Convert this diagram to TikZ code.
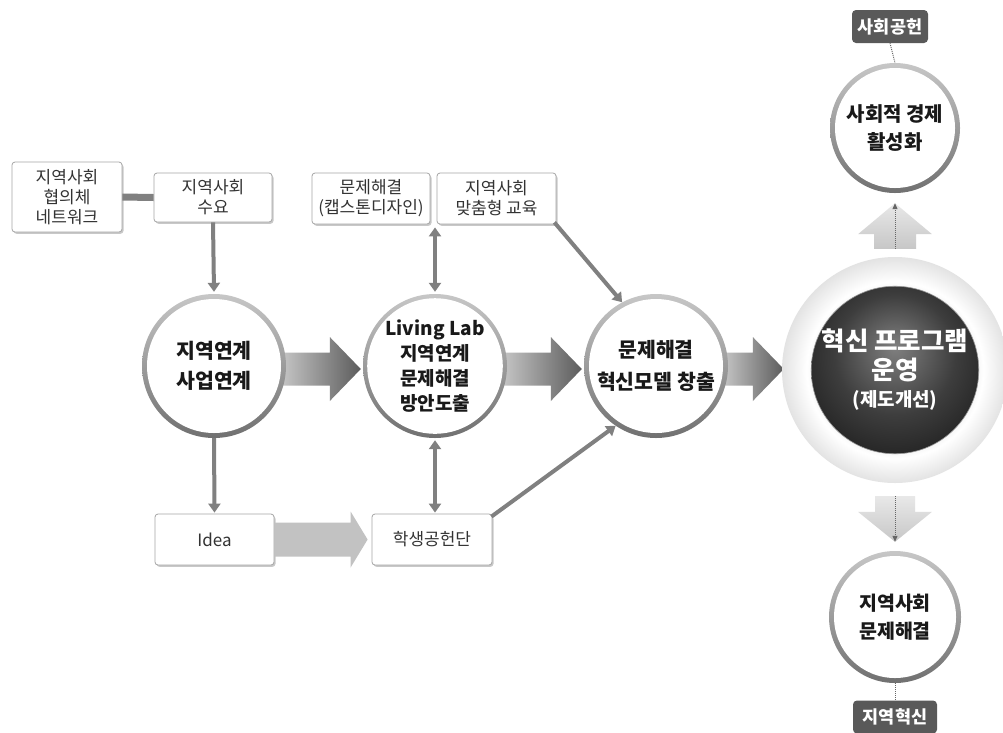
\documentclass[tikz,border=0pt]{standalone}
\usepackage{fontspec}
\setmainfont{Noto Sans CJK KR}
\usetikzlibrary{arrows.meta,shadows,calc}
\pgfdeclarelayer{bg}
\pgfsetlayers{bg,main}
\pgfdeclareradialshading{ringshade}{\pgfpoint{0bp}{0bp}}{color(0bp)=(black!12); color(16bp)=(black!10); color(19.5bp)=(white); color(22bp)=(black!5); color(25bp)=(black!11); color(50bp)=(black!11)}
\pgfdeclareradialshading{darkshade}{\pgfpoint{0bp}{7bp}}{color(0bp)=(black!50); color(18bp)=(black!76); color(32bp)=(black!88); color(50bp)=(black!88)}
\begin{document}
\begin{tikzpicture}[x=1pt,y=-1pt,
  box/.style={draw=black!35, line width=0.8pt, rounded corners=3pt, fill=white, align=center,
    text=black!80, font=\fontsize{17}{20}\selectfont, inner sep=0pt,
    drop shadow={shadow xshift=1.5pt, shadow yshift=-1.8pt, fill=black!30, opacity=0.7}},
  darkbox/.style={fill=black!65, rounded corners=4pt, text=white, inner sep=0pt,
    font=\fontsize{17.5}{18}\selectfont\bfseries, minimum height=33pt},
  ringnode/.style={circle, inner sep=0pt, minimum size=#1, top color=black!22, bottom color=black!56},
  ctext/.style={circle, inner sep=0pt, fill=white, align=center, minimum size=#1, text=black!90},
  thinarrow/.style={draw=black!50, line width=4pt, -{Triangle[width=12pt,length=9pt]}},
  thinboth/.style={draw=black!50, line width=4pt, {Triangle[width=12pt,length=9pt]}-{Triangle[width=12pt,length=9pt]}},
  rowarrow/.style={left color=black!22, right color=black!64},
  vertarrow/.style={top color=black!9, bottom color=black!22},
  dots/.style={draw=black!60, line width=1pt, densely dotted}
]
\useasboundingbox (0,0) rectangle (1003,732);

% small boxes
\node[box, minimum width=110pt, minimum height=70pt] (b1) at (67,197) {지역사회\\협의체\\네트워크};
\node[box, minimum width=118pt, minimum height=49pt] (b2) at (213,197.5) {지역사회\\수요};
\node[box, minimum width=118pt, minimum height=51pt] (b3) at (371,198.5) {문제해결\\(캡스톤디자인)};
\node[box, minimum width=119pt, minimum height=51pt] (b4) at (496.5,198.5) {지역사회\\맞춤형 교육};
\node[box, minimum width=119pt, minimum height=51pt] (b5) at (214.5,539.5) {Idea};
\node[box, minimum width=120pt, minimum height=51pt] (b6) at (432,539.5) {학생공헌단};

% row circles
\node[ringnode=144pt] (c1) at (214,366) {};
\node[ctext=134pt, font=\fontsize{20.5}{30}\selectfont\bfseries] (c1t) at (c1) {지역연계\\사업연계};
\node[ringnode=144pt] (c2) at (435,366) {};
\node[ctext=134pt, font=\fontsize{19}{25}\selectfont\bfseries] (c2t) at (c2) {Living Lab\\지역연계\\문제해결\\방안도출};
\node[ringnode=144pt] (c3) at (656,366) {};
\node[ctext=134pt, font=\fontsize{20.5}{32}\selectfont\bfseries] (c3t) at (c3) {문제해결\\혁신모델 창출};

% big circle
\node[circle, inner sep=0pt, minimum size=226pt, shade, shading=ringshade] (big) at (895,370) {};
\node[circle, inner sep=0pt, minimum size=154pt, shade, shading=darkshade, draw=black!40, line width=0.6pt,
  text=white, align=center, font=\fontsize{25.5}{29}\selectfont\bfseries] (bigt) at (big)
  {혁신 프로그램\\운영\\[-2pt]{\fontsize{19}{22}\selectfont (제도개선)}};

% top and bottom circles
\node[ringnode=130pt] (top) at (895,128) {};
\node[ctext=120pt, font=\fontsize{20}{28}\selectfont\bfseries] (topt) at (top) {사회적 경제\\활성화};
\node[ringnode=132pt] (bot) at (895,617) {};
\node[ctext=122pt, font=\fontsize{19.5}{28}\selectfont\bfseries] (bott) at (bot) {지역사회\\문제해결};

\node[darkbox, minimum width=76pt] (sg) at (890,26.5) {사회공헌};
\node[darkbox, minimum width=84pt] (jh) at (895,717) {지역혁신};

\begin{pgfonlayer}{bg}
\fill[white] (0,0) rectangle (1003,732);
% row block arrows
\shade[rowarrow] let \p1=([yshift=-3pt]c1.east), \p2=([xshift=-2pt]c2.west) in
  ({\x1-6pt},{\y1+16.5pt}) -- ({\x2-31pt},{\y1+16.5pt}) -- ({\x2-31pt},{\y1+32pt}) -- (\x2,\y1)
  -- ({\x2-31pt},{\y1-32pt}) -- ({\x2-31pt},{\y1-16.5pt}) -- ({\x1-6pt},{\y1-16.5pt}) -- cycle;
\shade[rowarrow] let \p1=([yshift=-3pt]c2.east), \p2=([xshift=-2pt]c3.west) in
  ({\x1-6pt},{\y1+16.5pt}) -- ({\x2-31pt},{\y1+16.5pt}) -- ({\x2-31pt},{\y1+32pt}) -- (\x2,\y1)
  -- ({\x2-31pt},{\y1-32pt}) -- ({\x2-31pt},{\y1-16.5pt}) -- ({\x1-6pt},{\y1-16.5pt}) -- cycle;
\shade[rowarrow] let \p1=([yshift=-3pt]c3.east), \p2=([xshift=2pt]big.west) in
  ({\x1-6pt},{\y1+16.5pt}) -- ({\x2-31pt},{\y1+16.5pt}) -- ({\x2-31pt},{\y1+32pt}) -- (\x2,\y1)
  -- ({\x2-31pt},{\y1-32pt}) -- ({\x2-31pt},{\y1-16.5pt}) -- ({\x1-6pt},{\y1-16.5pt}) -- cycle;
\end{pgfonlayer}

% Idea -> student arrow
\fill[black!24] let \p1=(b5.east), \p2=([xshift=-4pt]b6.west) in
  (\x1,{\y1+17pt}) -- ({\x2-17pt},{\y1+17pt}) -- ({\x2-17pt},{\y1+28pt}) -- (\x2,\y1)
  -- ({\x2-17pt},{\y1-28pt}) -- ({\x2-17pt},{\y1-17pt}) -- (\x1,{\y1-17pt}) -- cycle;

% vertical arrows
\shade[vertarrow] let \p1=([yshift=8pt]big.north), \p2=([yshift=-10pt]top.south) in
  ({\x1-21pt},\y1) -- ({\x1-21pt},{\y2-31pt}) -- ({\x1-37pt},{\y2-31pt}) -- (\x1,\y2)
  -- ({\x1+37pt},{\y2-31pt}) -- ({\x1+21pt},{\y2-31pt}) -- ({\x1+21pt},\y1) -- cycle;
\draw[dots, -{Triangle[width=5pt,length=6pt]}] ([yshift=8pt]big.north) -- ([yshift=-10pt]top.south);
\shade[vertarrow] let \p1=([yshift=-13pt]big.south), \p2=([yshift=9pt]bot.north) in
  ({\x1-20pt},\y1) -- ({\x1-20pt},{\y2+30pt}) -- ({\x1-37pt},{\y2+30pt}) -- (\x1,\y2)
  -- ({\x1+37pt},{\y2+30pt}) -- ({\x1+20pt},{\y2+30pt}) -- ({\x1+20pt},\y1) -- cycle;
\draw[dots, -{Triangle[width=5pt,length=6pt]}] ([yshift=-13pt]big.south) -- ([yshift=9pt]bot.north);

% dotted label links
\draw[dots] (sg.south) -- (top.north);
\draw[dots] (bot.south) -- (jh.north);

% thin connectors
\draw[draw=black!50, line width=7pt] (b1.east) -- (b2.west);
\draw[thinarrow] (b2.south) -- ([yshift=2pt]c1.north);
\draw[thinarrow] (c1.south) -- ([yshift=1pt]b5.north);
\draw[thinboth] ([yshift=-3pt]c2.north |- b3.south) -- ([yshift=2pt]c2.north);
\draw[thinboth] ([yshift=-2pt]c2.south) -- ([yshift=1pt]c2.south |- b6.north);
\draw[thinarrow] ([xshift=-2pt,yshift=2pt]b4.south east) -- (c3.118);
\draw[thinarrow] ([xshift=-1pt,yshift=-3pt]b6.north east) -- (c3.236);
\end{tikzpicture}
\end{document}
